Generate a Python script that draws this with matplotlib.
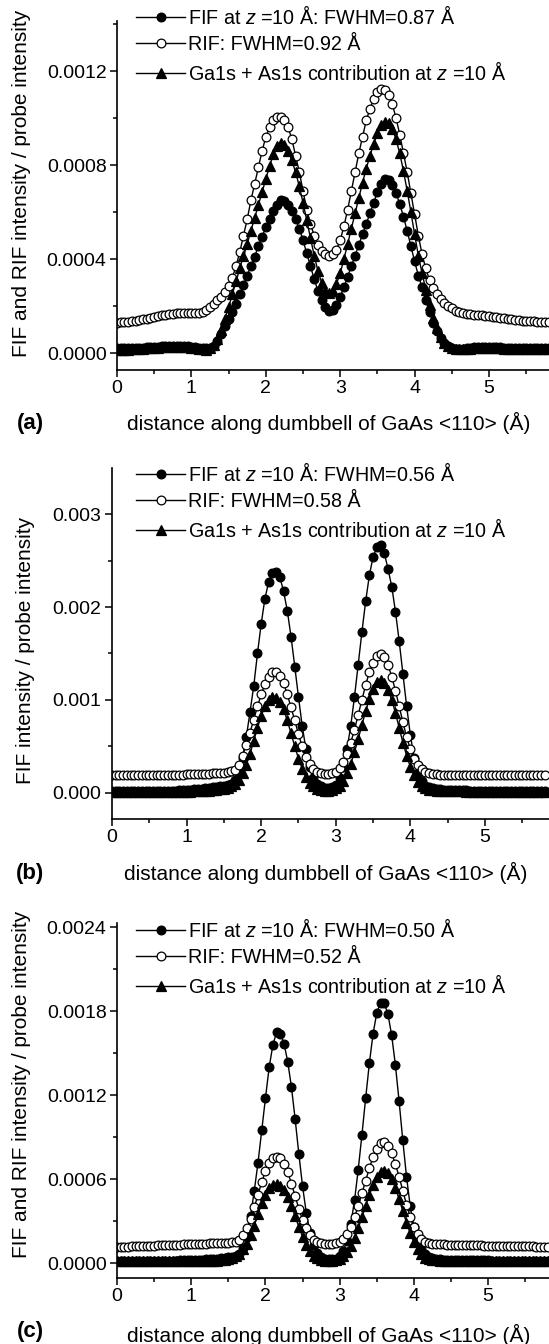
import numpy as np
import matplotlib
matplotlib.use("Agg")
import matplotlib.pyplot as plt
from matplotlib.ticker import MultipleLocator, FormatStrFormatter

plt.rcParams['font.family'] = ['Liberation Sans', 'DejaVu Sans']
plt.rcParams['mathtext.fontset'] = 'custom'
plt.rcParams['mathtext.rm'] = 'Liberation Sans'
plt.rcParams['mathtext.it'] = 'Liberation Sans:italic'

# ---------------- data (intensity values in units of 1e-5) ----------------
STEP = 0.05          # sampling step along the dumbbell (Å)
UNIT = 1e-5

# panel (a)
fif_a = [2.0,2.0,2.0,2.0,2.0,2.1,2.2,2.3,2.4,2.5,2.6,2.7,2.8,2.9,3.0,3.0,3.0,3.0,2.9,2.8,
         2.6,2.4,2.2,2.0,2.0,2.3,3.0,5.0,8.0,11.5,14.5,17.5,21,25,29,33,37,41,45.5,49.5,
         53.5,57,60.5,63,65,64.5,63,60.5,57,53,48,42.5,37,31.5,26.5,22.5,19.5,18,18.5,20.5,
         24,28,32.5,37,41.5,46,50.5,55,59.5,64,68.5,72,74,73.5,71.5,68,63.5,58,52,45.5,
         39,33,28,22.5,17.5,13,9.5,6.5,4.5,3,2.2,1.6,1.6,1.8,2.0,2.2,2.4,2.5,2.6,2.6,
         2.6,2.6,2.5,2.4,2.3,2.2,2.1,2.0,2.0,2.0,2.0,2.0,2.0,2.0,2.0,2.0,2.0]
rif_a = [13.0,13.1,13.2,13.4,13.6,13.8,14.0,14.3,14.6,15.0,15.3,15.6,16.0,16.3,16.6,16.8,17.0,17.1,17.2,17.2,
         17.2,17.1,17.2,17.5,18.3,19.5,21.0,22.5,24.0,26.0,28.5,32.0,37.0,43.0,50.0,57.0,65.0,72.0,79.0,86.0,
         92,96,99,100.5,100.5,99,96,91,84,77,69,61,55,50,46,43.5,42,41.5,42,44,
         48,54,61,69,77,85,92,99,104,108,111,112.5,112,110,106,100,93,85,77,68,
         59,50,42,36,31,27.5,25,23,21.5,20,19,18,17.5,17,16.8,16.6,16.4,16.2,16.0,15.8,
         15.6,15.4,15.2,15.0,14.8,14.6,14.4,14.2,14.0,13.8,13.7,13.6,13.5,13.4,13.3,13.2,13.1]
tri_a = [1.5,1.5,1.5,1.5,1.6,1.7,1.8,1.9,2.0,2.1,2.2,2.3,2.4,2.5,2.6,2.6,2.6,2.6,2.5,2.4,
         2.2,2.0,1.8,1.6,1.5,2.0,3.5,6,10,14.5,19.5,25,30.5,36,41.5,46.5,52,57.5,63,68.5,
         74,79.5,84.5,88,89.5,88.5,86,82,77,71,64,56.5,49,41.5,35,30,26.5,25.5,26.5,29.5,
         34,40,46.5,53,59.5,66,72.5,78.5,84,89,93.5,97,98.5,98,95.5,91,85,77.5,69,60,
         50.5,41.5,34,27,20.5,15,10.5,7,4.5,3,2.2,1.6,1.6,1.7,1.8,1.9,2.0,2.1,2.2,2.2,
         2.2,2.2,2.1,2.0,1.9,1.8,1.7,1.7,1.6,1.6,1.6,1.6,1.6,1.6,1.6,1.6,1.6]

# panel (b)
fif_b = [2,2,2,2,2,2,2,2,2,2,2,2,2,2,2,2.2,2.4,2.6,2.8,3.0,
         3.2,3.5,3.8,4.2,4.6,5.0,5.5,6.0,6.5,7.0,7.5,8.5,10,14,22,38,60,87,115,150,
         182,209,227,237,238,232,217,196,168,136,103,72,47,28,16,10,7,5.5,5,6,
         9,16,28,47,72,103,138,173,206,234,254,264,267,258,241,222,195,163,128,93,
         62,38,22,13,8,6,5,4.5,4,3.6,3.3,3.1,3.0,2.9,2.8,2.7,2.6,2.5,2.4,2.3,
         2.3,2.2,2.2,2.1,2.1,2.0,2,2,2,2,2,2,2,2,2,2,2]
rif_b = [19,19,19,19,19,19,19,19,19,19,19,19,19,19,19,19,19.2,19.4,19.6,19.8,
         20,20,20,20.2,20.4,20.6,20.8,21,21.2,21.5,22,22.5,23.5,25,30,40,52,65,79,93,
         106,117,125,130,130,126,118,106,92,78,63,50,39,31,25.5,22.5,21,20.5,20.5,21,
         23,27,33,42,54,68,84,100,116,130,140,147,149,146,138,125,110,93,76,60,
         47,37,30,25.5,23,21.5,20.5,20,19.8,19.6,19.5,19.4,19.3,19.2,19.2,19.1,19.1,19,19,19,
         19,19,19,19,19,19,19,19,19,19,19,19,19,19,19,19,19]
tri_b = [1.5,1.5,1.5,1.5,1.5,1.5,1.5,1.5,1.5,1.5,1.5,1.5,1.5,1.5,1.5,1.5,1.5,1.5,1.5,1.5,
         1.5,1.5,1.6,1.7,1.8,2.0,2.5,3.0,3.5,4.0,4.5,5.5,7,9.5,14,21,30,42,56,70,
         83,93,100,103,102,98,90,78,64,50,37,26,17,11,7,4.5,3,2.5,2.5,3,
         5,8,13,21,31,44,58,73,88,101,112,119,121,118,111,100,86,70,54,40,
         28,19,12,8,5,3.5,2.8,2.4,2.2,2.0,1.9,1.8,1.7,1.6,1.6,1.5,1.5,1.5,1.5,1.5,
         1.5,1.5,1.5,1.5,1.5,1.5,1.5,1.5,1.5,1.5,1.5,1.5,1.5,1.5,1.5,1.5,1.5]

# panel (c)
fif_c = [2,2,2,2,2,2,2,2,2,2,2,2,2,2,2,2,2,2.1,2.2,2.3,
         2.4,2.5,2.6,2.7,2.8,3.0,3.2,3.4,3.6,3.9,4.2,4.6,5.5,7,11,19,34,52,72,95,
         118,140,156,165,164,157,144,126,103,78,55,36,22,13,7.5,4.5,3.2,2.8,2.8,3.2,
         5,9,16,28,45,67,92,118,143,164,179,186,186,178,163,142,116,88,62,41,
         26,16,10,6.5,4.5,3.5,3,2.8,2.6,2.5,2.4,2.4,2.3,2.3,2.2,2.2,2.2,2.1,2.1,2.1,
         2.1,2,2,2,2,2,2,2,2,2,2,2,2,2,2,2,2]
rif_c = [12,12,12,12,12.1,12.2,12.3,12.4,12.5,12.6,12.7,12.8,12.9,13,13.1,13.2,13.3,13.4,13.5,13.6,
         13.7,13.8,13.9,14,14.1,14.2,14.3,14.4,14.5,14.6,14.8,15,15.5,17,20,25,32,40,49,58,
         66,72,75.5,76,75,71,65,57,48,39,31,25,20,17,15.5,14.5,14,14,14,14.5,
         15.5,17.5,21,26,33,41,50,59,68,76,82,86,86.5,84,78.5,71,62,52,42,33,
         26,21,17.5,15.5,14.5,14,13.8,13.6,13.5,13.4,13.3,13.2,13.1,13,13,12.9,12.9,12.8,12.8,12.7,
         12.7,12.6,12.6,12.5,12.5,12.4,12.4,12.3,12.3,12.2,12.2,12.1,12.1,12,12,12,12]
tri_c = [1.5,1.5,1.5,1.5,1.5,1.5,1.5,1.5,1.5,1.5,1.5,1.5,1.5,1.5,1.5,1.5,1.5,1.5,1.5,1.5,
         1.5,1.5,1.5,1.5,1.6,1.7,1.8,2.0,2.2,2.6,3.2,4.0,5.0,7.0,10,14,20,27,35,43,
         49,53.5,56,56.5,55.5,52.5,47.5,41,33.5,26,19,13,8.5,5.5,3.5,2.5,2,2,2,2.2,
         3,5,8,12.5,18,25,33,41,49,56,61.5,65,66,64.5,60.5,54,46,37.5,29,21.5,
         15,10,6.5,4,3,2.4,2.1,1.9,1.8,1.7,1.6,1.6,1.6,1.5,1.5,1.5,1.5,1.5,1.5,1.5,
         1.5,1.5,1.5,1.5,1.5,1.5,1.5,1.5,1.5,1.5,1.5,1.5,1.5,1.5,1.5,1.5,1.5]

fwhm_fif = ["0.87", "0.56", "0.50"]
fwhm_rif = ["0.92", "0.58", "0.52"]
panel_tags = ["(a)", "(b)", "(c)"]
ylabels = ["FIF and RIF intensity / probe intensity",
           "FIF intensity / probe intensity",
           "FIF and RIF intensity / probe intensity"]
xlabel = "distance along dumbbell of GaAs <110> (Å)"
yticks_major = [0.0004, 0.001, 0.0006]
yfmt = ["%.4f", "%.3f", "%.4f"]

# ---------------- layout (pixel geometry of the reference) ----------------
W, H = 549, 1344
fig = plt.figure(figsize=(W / 100, H / 100), dpi=100)

panels = [
    dict(left=117, top=21, bottom=370, xmax=5.806, ylim=(-7.2e-5, 1.413e-3), leg_top=5,
         ylab=(-0.222, 0.536), xlab_y=-0.152),
    dict(left=112, top=468, bottom=819, xmax=5.858, ylim=(-2.8e-4, 3.495e-3), leg_top=462,
         ylab=(-0.199, 0.479), xlab_y=-0.154),
    dict(left=117, top=923, bottom=1278, xmax=5.82, ylim=(-1.05e-4, 2.431e-3), leg_top=918,
         ylab=(-0.222, 0.546), xlab_y=-0.16),
]
data = [(fif_a, rif_a, tri_a), (fif_b, rif_b, tri_b), (fif_c, rif_c, tri_c)]

FS_TICK = 14
FS_LEG = 14.2
FS_LAB = 15
for i, p in enumerate(panels):
    ax = fig.add_axes([p['left'] / W, 1 - p['bottom'] / H,
                       (W - p['left']) / W, (p['bottom'] - p['top']) / H])
    fif, rif, tri = data[i]
    xs = lambda s: np.arange(len(s)) * STEP
    common = dict(color='black', lw=1.0, mec='black', mew=0.9)
    ax.plot(xs(fif), np.array(fif) * UNIT, marker='o', ms=6.3, mfc='black',
            label="FIF at $z$ =10 Å: FWHM=%s Å" % fwhm_fif[i], **common)
    ax.plot(xs(rif), np.array(rif) * UNIT, marker='o', ms=6.3, mfc='white',
            label="RIF: FWHM=%s Å" % fwhm_rif[i], **common)
    ax.plot(xs(tri), np.array(tri) * UNIT, marker='^', ms=6.8, mfc='black',
            label="Ga1s + As1s contribution at $z$ =10 Å", **common)

    ax.set_xlim(0, p['xmax'])
    ax.set_ylim(*p['ylim'])
    for s in ['top', 'right']:
        ax.spines[s].set_visible(False)
    for s in ['left', 'bottom']:
        ax.spines[s].set_linewidth(1.2)
    ax.xaxis.set_major_locator(MultipleLocator(1))
    ax.xaxis.set_minor_locator(MultipleLocator(0.5))
    ax.yaxis.set_major_locator(MultipleLocator(yticks_major[i]))
    ax.yaxis.set_minor_locator(MultipleLocator(yticks_major[i] / 2))
    ax.yaxis.set_major_formatter(FormatStrFormatter(yfmt[i]))
    ax.tick_params(which='major', direction='out', length=5, width=1.1, labelsize=FS_TICK, pad=2.5)
    ax.tick_params(which='minor', direction='out', length=3, width=1.1)

    ax.set_ylabel(ylabels[i], fontsize=FS_LAB)
    ax.yaxis.set_label_coords(*p['ylab'])
    ax.yaxis.label.set_va('center')
    ax.set_xlabel(xlabel, fontsize=FS_LAB)
    ax.xaxis.set_label_coords(0.49, p['xlab_y'])
    ax.xaxis.label.set_va('center')

    fig.text(30 / W, 1 - (p['bottom'] + 54) / H, panel_tags[i], fontsize=16,
             fontweight='bold', ha='center', va='center')

    ax.legend(loc='upper left', bbox_to_anchor=(136 / W, 1 - p['leg_top'] / H),
              bbox_transform=fig.transFigure, frameon=False, fontsize=FS_LEG,
              handlelength=2.5, handletextpad=0.12, borderpad=0, borderaxespad=0,
              labelspacing=0.36)

fig.savefig("out.png", dpi=100)
